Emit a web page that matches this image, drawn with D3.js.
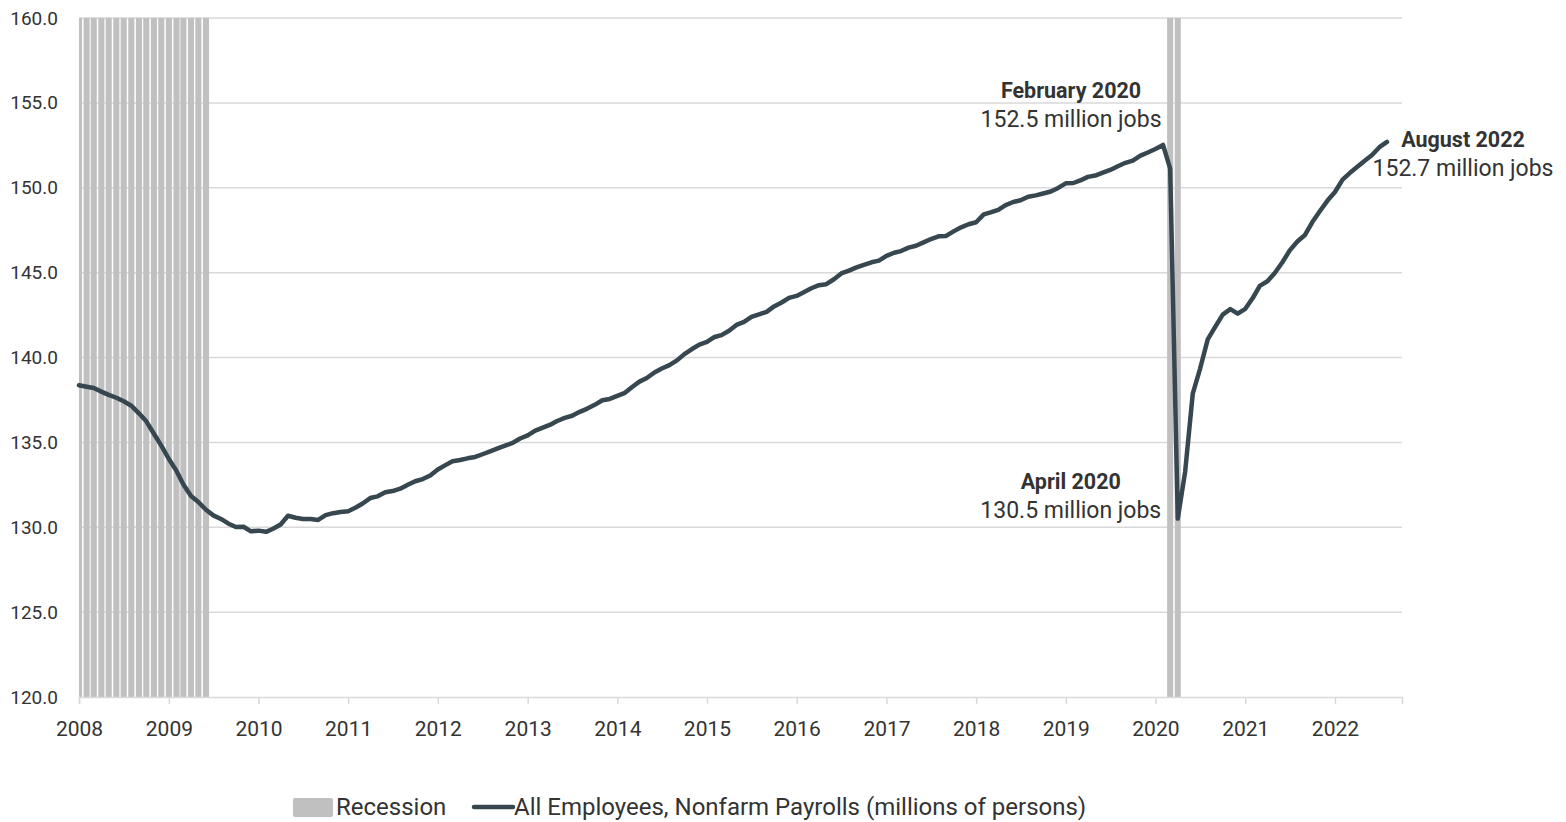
<!DOCTYPE html>
<html>
<head>
<meta charset="utf-8">
<script src="https://cdn.jsdelivr.net/npm/d3@7"></script>
<style>
  html, body { margin: 0; padding: 0; background: #fff; }
  svg text { font-family: Roboto, "Noto Sans", sans-serif; fill: #333; }
</style>
</head>
<body>
<svg id="chart" width="1566" height="822"></svg>
<script>
// All Employees, Nonfarm Payrolls, monthly, millions of persons (Jan 2008 - Aug 2022)
const startMonth = "2008-01";
const payrolls = [
  // 2008
  138.37, 138.28, 138.20, 137.99, 137.80, 137.63, 137.42, 137.16, 136.71, 136.24, 135.51, 134.81,
  // 2009
  134.02, 133.32, 132.52, 131.84, 131.49, 131.03, 130.70, 130.49, 130.21, 130.01, 130.03, 129.76,
  // 2010
  129.80, 129.73, 129.91, 130.16, 130.68, 130.56, 130.49, 130.48, 130.43, 130.71, 130.83, 130.90,
  // 2011
  130.94, 131.16, 131.40, 131.72, 131.82, 132.06, 132.13, 132.27, 132.50, 132.71, 132.84, 133.05,
  // 2012
  133.40, 133.66, 133.89, 133.96, 134.06, 134.14, 134.30, 134.47, 134.65, 134.81, 134.97, 135.23,
  // 2013
  135.41, 135.69, 135.85, 136.03, 136.26, 136.44, 136.57, 136.80, 136.99, 137.21, 137.48, 137.56,
  // 2014
  137.74, 137.92, 138.25, 138.58, 138.79, 139.12, 139.35, 139.55, 139.83, 140.20, 140.50, 140.76,
  // 2015
  140.92, 141.21, 141.32, 141.58, 141.92, 142.10, 142.39, 142.54, 142.69, 143.01, 143.24, 143.51,
  // 2016
  143.63, 143.86, 144.08, 144.26, 144.32, 144.61, 144.95, 145.12, 145.31, 145.46, 145.61, 145.71,
  // 2017
  145.99, 146.17, 146.27, 146.47, 146.58, 146.78, 146.98, 147.14, 147.16, 147.43, 147.67, 147.85,
  // 2018
  147.97, 148.43, 148.55, 148.70, 148.98, 149.16, 149.26, 149.47, 149.55, 149.66, 149.78, 149.99,
  // 2019
  150.26, 150.28, 150.43, 150.64, 150.72, 150.89, 151.05, 151.27, 151.47, 151.60, 151.89, 152.08,
  // 2020
  152.28, 152.52, 151.13, 130.51, 133.27, 137.87, 139.35, 141.07, 141.82, 142.53, 142.85, 142.58,
  // 2021
  142.87, 143.52, 144.22, 144.49, 144.98, 145.61, 146.31, 146.83, 147.22, 147.98, 148.63, 149.23,
  // 2022
  149.75, 150.48, 150.85, 151.22, 151.58, 151.93, 152.39, 152.70
];
const recessions = [["2007-12", "2009-06"], ["2020-03", "2020-04"]];
const yearTicks = [2008, 2009, 2010, 2011, 2012, 2013, 2014, 2015, 2016, 2017, 2018, 2019, 2020, 2021, 2022];
const valueTicks = [120, 125, 130, 135, 140, 145, 150, 155, 160];
const annotations = [
  { month: "2020-02", title: "February 2020", sub: "152.5 million jobs" },
  { month: "2020-04", title: "April 2020", sub: "130.5 million jobs" },
  { month: "2022-08", title: "August 2022", sub: "152.7 million jobs" }
];

const parseMonth = d3.timeParse("%Y-%m");
const margin = { top: 18, right: 164, bottom: 125, left: 79 };
const W = 1566, H = 822;
const width = W - margin.left - margin.right;
const height = H - margin.top - margin.bottom;

const svg = d3.select("#chart");
const g = svg.append("g").attr("transform", "translate(" + margin.left + "," + margin.top + ")");

const x = d3.scaleTime()
  .domain([parseMonth("2008-01"), parseMonth("2022-10")])
  .range([0, width]);
const y = d3.scaleLinear()
  .domain([120, 160])
  .range([height, 0]);

const series = payrolls.map((v, i) => ({ date: d3.timeMonth.offset(parseMonth(startMonth), i), value: v }));

svg.append("defs").append("clipPath").attr("id", "plot-clip")
  .append("rect").attr("width", width).attr("height", height);

// Gridlines
g.append("g")
  .selectAll("line")
  .data(valueTicks.filter(v => v > 120))
  .enter()
  .append("line")
  .attr("x1", 0).attr("x2", width)
  .attr("y1", d => y(d)).attr("y2", d => y(d))
  .attr("stroke", "#d9d9d9").attr("stroke-width", 1.5);

// Recession bars, one per month
const recMonths = [];
recessions.forEach(r => {
  d3.timeMonth.range(parseMonth(r[0]), d3.timeMonth.offset(parseMonth(r[1]), 1)).forEach(m => recMonths.push(m));
});
const monthW = x(parseMonth("2008-02")) - x(parseMonth("2008-01"));
g.append("g")
  .attr("clip-path", "url(#plot-clip)")
  .selectAll("rect")
  .data(recMonths)
  .enter()
  .append("rect")
  .attr("x", d => x(d) - monthW * 0.4)
  .attr("width", monthW * 0.8)
  .attr("y", 0)
  .attr("height", height)
  .attr("fill", "#c0c0c0");

// X axis
const xAxis = g.append("g")
  .attr("transform", "translate(0," + height + ")")
  .call(d3.axisBottom(x)
    .tickValues(yearTicks.map(yr => new Date(yr, 0, 1)))
    .tickFormat(d3.timeFormat("%Y"))
    .tickSize(7)
    .tickPadding(17));
xAxis.select(".domain").attr("stroke", "#d9d9d9").attr("stroke-width", 1.5);
xAxis.selectAll(".tick line").attr("stroke", "#d9d9d9").attr("stroke-width", 1.5);
xAxis.selectAll(".tick text").style("font-size", "21px").attr("fill", "#333");

// Y axis labels
const yAxis = g.append("g")
  .call(d3.axisLeft(y)
    .tickValues(valueTicks)
    .tickFormat(d3.format(".1f"))
    .tickSize(0)
    .tickPadding(21));
yAxis.select(".domain").remove();
yAxis.selectAll(".tick text").style("font-size", "19px").attr("fill", "#333");

// Line
const line = d3.line()
  .x(d => x(d.date))
  .y(d => y(d.value));
g.append("path")
  .datum(series)
  .attr("d", line)
  .attr("fill", "none")
  .attr("stroke", "#37474f")
  .attr("stroke-width", 4.5)
  .attr("stroke-linejoin", "round")
  .attr("stroke-linecap", "round");

// Annotations
const annPos = {
  "2020-02": { dx: -92, dy: -33 },
  "2020-04": { dx: -107, dy: -16 },
  "2022-08": { dx: 76, dy: 19 }
};
annotations.forEach(a => {
  const d = series.find(s => +s.date === +parseMonth(a.month));
  const px = x(d.date) + annPos[a.month].dx;
  const py = y(d.value) + annPos[a.month].dy;
  const t = g.append("text").attr("text-anchor", "middle");
  t.append("tspan").attr("x", px).attr("y", py - 14).style("font-weight", "bold").style("font-size", "21.5px").text(a.title);
  t.append("tspan").attr("x", px).attr("y", py + 15).style("font-size", "23px").text(a.sub);
});

// Legend
const legend = svg.append("g").attr("transform", "translate(0,807)");
legend.append("rect").attr("x", 293).attr("y", -9).attr("width", 40).attr("height", 19).attr("rx", 2).attr("fill", "#c0c0c0");
legend.append("text").attr("x", 336).attr("y", 0).attr("dy", "0.35em").style("font-size", "24px").text("Recession");
legend.append("line").attr("x1", 474).attr("x2", 513).attr("y1", 0).attr("y2", 0)
  .attr("stroke", "#37474f").attr("stroke-width", 4.5).attr("stroke-linecap", "round");
legend.append("text").attr("x", 514).attr("y", 0).attr("dy", "0.35em").style("font-size", "24px")
  .text("All Employees, Nonfarm Payrolls (millions of persons)");
</script>
</body>
</html>
